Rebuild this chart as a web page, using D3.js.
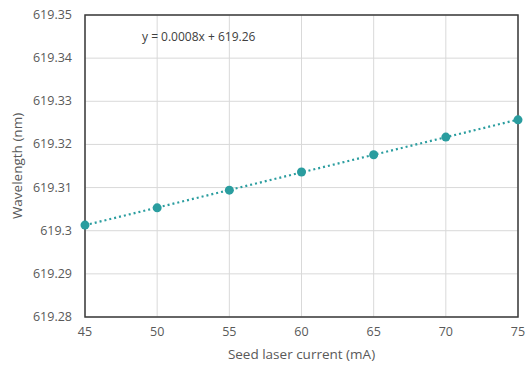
<html>
<head>
<script src="https://cdn.jsdelivr.net/npm/d3@7"></script>
<style>
  body { margin: 0; background: #fff; }
  text { font-family: "Open Sans", "Liberation Sans", sans-serif; }
</style>
</head>
<body>
<script>
// measured values
var currents = [45, 50, 55, 60, 65, 70, 75];
var wavelengths = [619.3013, 619.3053, 619.3094, 619.3136, 619.3176, 619.3217, 619.3257];
var xTicks = [45, 50, 55, 60, 65, 70, 75];
var yTicks = [619.28, 619.29, 619.30, 619.31, 619.32, 619.33, 619.34, 619.35];
var equation = "y = 0.0008x + 619.26";

var w = 526, h = 369;
var m = {left: 85, right: 8, top: 15, bottom: 52};

var svg = d3.select("body").append("svg")
    .attr("width", w)
    .attr("height", h);

var x = d3.scaleLinear().domain([45, 75]).range([m.left, w - m.right]);
var y = d3.scaleLinear().domain([619.28, 619.35]).range([h - m.bottom, m.top]);

// grid
svg.selectAll(".gx").data(xTicks).enter().append("line")
    .attr("x1", function(d){ return x(d); }).attr("x2", function(d){ return x(d); })
    .attr("y1", m.top).attr("y2", h - m.bottom)
    .attr("stroke", "#d9d9d9").attr("stroke-width", 1);
svg.selectAll(".gy").data(yTicks).enter().append("line")
    .attr("x1", m.left).attr("x2", w - m.right)
    .attr("y1", function(d){ return y(d); }).attr("y2", function(d){ return y(d); })
    .attr("stroke", "#d9d9d9").attr("stroke-width", 1);

// frame
svg.append("rect")
    .attr("x", m.left).attr("y", m.top)
    .attr("width", w - m.left - m.right).attr("height", h - m.top - m.bottom)
    .attr("fill", "none").attr("stroke", "#3a3a3a").attr("stroke-width", 1.5);

// tick labels
svg.selectAll(".xl").data(xTicks).enter().append("text")
    .attr("x", function(d){ return x(d); })
    .attr("y", h - m.bottom + 19)
    .attr("text-anchor", "middle")
    .attr("font-size", 12.5).attr("fill", "#595959")
    .text(function(d){ return d; });
svg.selectAll(".yl").data(yTicks).enter().append("text")
    .attr("x", m.left - 13)
    .attr("y", function(d){ return y(d) + 4; })
    .attr("text-anchor", "end")
    .attr("font-size", 12.5).attr("fill", "#595959")
    .text(function(d){ return +d.toFixed(2); });

// axis titles
svg.append("text")
    .attr("x", (m.left + w - m.right) / 2).attr("y", h - 10)
    .attr("text-anchor", "middle").attr("font-size", 13.5).attr("fill", "#595959")
    .text("Seed laser current (mA)");
svg.append("text")
    .attr("transform", "translate(22," + ((m.top + h - m.bottom) / 2) + ") rotate(-90)")
    .attr("text-anchor", "middle").attr("font-size", 13.5).attr("fill", "#595959")
    .text("Wavelength (nm)");

// least squares trendline
var mx = d3.mean(currents), my = d3.mean(wavelengths);
var sxy = 0, sxx = 0;
currents.forEach(function(c, i){ sxy += (c - mx) * (wavelengths[i] - my); sxx += (c - mx) * (c - mx); });
var slope = sxy / sxx, icpt = my - slope * mx;
svg.append("line")
    .attr("x1", x(45)).attr("y1", y(slope * 45 + icpt))
    .attr("x2", x(75)).attr("y2", y(slope * 75 + icpt))
    .attr("stroke", "#2a9d9f").attr("stroke-width", 2.2)
    .attr("stroke-dasharray", "2,3");

// points
svg.selectAll("circle").data(currents).enter().append("circle")
    .attr("cx", function(d){ return x(d); })
    .attr("cy", function(d, i){ return y(wavelengths[i]); })
    .attr("r", 4.5)
    .attr("fill", "#2a9d9f");

svg.append("text")
    .attr("x", 142).attr("y", 41)
    .attr("font-size", 12).attr("fill", "#404040")
    .text(equation);
</script>
</body>
</html>
